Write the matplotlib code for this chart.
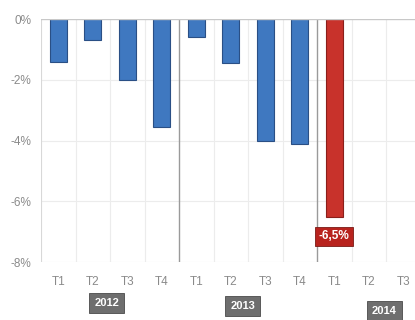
import matplotlib
matplotlib.use("Agg")
import matplotlib.pyplot as plt

quarters = ["T1", "T2", "T3", "T4", "T1", "T2", "T3", "T4", "T1", "T2", "T3"]
values = [-1.4, -0.7, -2.0, -3.55, -0.6, -1.45, -4.0, -4.1, -6.5, None, None]
years = ["2012", "2013", "2014"]
year_pos = [1.4, 5.35, 9.45]
year_box_y = [-9.35, -9.45, -9.6]
highlight = 8
y_ticks = [0, -2, -4, -6, -8]

FONT = ["Liberation Sans", "DejaVu Sans"]
GREY = "#8a8a8a"

fig = plt.figure(figsize=(4.15, 3.2), dpi=100)
ax = fig.add_axes([0.099, 0.181, 0.901, 0.759])

xs = list(range(len(quarters)))
for x, v in zip(xs, values):
    if v is None:
        continue
    if x == highlight:
        face, edge = "#c8322b", "#8a1f1a"
    else:
        face, edge = "#3f78c0", "#2a4f85"
    ax.bar(x, v, width=0.5, color=face, edgecolor=edge, linewidth=0.8, zorder=3)

# valeur mise en avant sous la barre rouge
ax.text(highlight, values[highlight] - 0.45, "-6,5%", ha="center", va="top",
        color="white", fontsize=8.5, fontweight="bold", family=FONT, zorder=5,
        bbox=dict(boxstyle="square,pad=0.3", fc="#b8231e", ec="#7a1a16", lw=0.6))

ax.set_xlim(-0.5, 10.34)
ax.set_ylim(-8, 0)
ax.set_yticks(y_ticks)
ax.set_yticklabels([f"{t}%" for t in y_ticks], color=GREY, fontsize=8.5, family=FONT)
ax.set_xticks(xs)
ax.set_xticklabels(quarters, color=GREY, fontsize=8.5, family=FONT)
ax.tick_params(length=0, pad=10)
ax.tick_params(axis="y", pad=7)

# grille légère
for y in y_ticks[1:-1]:
    ax.axhline(y, color="#ececec", lw=0.8, zorder=0)
for b in [0.5, 1.5, 2.5, 4.5, 5.5, 6.5, 8.5, 9.5]:
    ax.axvline(b, color="#ececec", lw=0.8, zorder=0)
# séparateurs entre années
for b in [3.5, 7.5]:
    ax.axvline(b, color="#9a9a9a", lw=1.0, zorder=1)
ax.axhline(0, color="#c8c8c8", lw=1.0, zorder=4)
ax.axhline(-8, color="#e0e0e0", lw=0.8, zorder=0)

for s in ax.spines.values():
    s.set_visible(False)
ax.axvline(-0.5, color="#d8d8d8", lw=0.8, zorder=0)

for pos, yb, label in zip(year_pos, year_box_y, years):
    ax.text(pos, yb, label, ha="center", va="center", color="white",
            fontsize=8, fontweight="bold", family=FONT, clip_on=False,
            bbox=dict(boxstyle="square,pad=0.45", fc="#6e6e6e", ec="#4a4a4a", lw=0.6))

fig.savefig("out.png", dpi=100)
